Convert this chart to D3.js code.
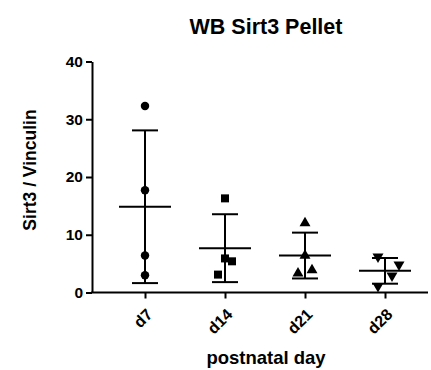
<!DOCTYPE html>
<html lang="en">
  <head>
    <meta charset="UTF-8" />
    <title>WB Sirt3 Pellet</title>
    <script src="https://cdn.jsdelivr.net/npm/d3@7"></script>
    <style>
      body { margin: 0; background: #fff; }
      svg { display: block; font-family: "Liberation Sans", Arial, sans-serif; }
    </style>
  </head>
  <body>
    <svg width="431" height="370"></svg>
    <script>
      // groups and the 4 points per group
      const days = ["d7", "d14", "d21", "d28"];
      const d7 = [32.3, 17.7, 6.4, 3.0];
      const d14 = [16.3, 5.9, 5.4, 3.1];
      const d21 = [12.0, 6.4, 3.3, 3.9];
      const d28 = [6.2, 4.8, 2.9, 1.1];
      // small x jitter of the points (in px), as in the original
      const jitter = [[0, 0, 0, 0], [0, 0, 7, -7], [0, 0, -7, 7], [-7, 14, 7, -7]];
      const yTicks = [0, 10, 20, 30, 40];

      const groups = [d7, d14, d21, d28];
      const symbols = [d3.symbolCircle, d3.symbolSquare, d3.symbolTriangle, d3.symbolTriangle];
      const symSize = [56, 64, 52, 52];

      const svg = d3.select("svg");
      const x = d3.scalePoint().domain(days).range([145, 385]);
      const y = d3.scaleLinear().domain([0, 40]).range([292.5, 61.5]);

      // y axis
      const gy = svg.append("g").attr("transform", "translate(92,0)")
        .call(d3.axisLeft(y).tickValues(yTicks).tickSize(6).tickSizeOuter(0).tickPadding(3));
      gy.select(".domain").attr("stroke-width", 2);
      gy.selectAll(".tick line").attr("stroke-width", 2);
      gy.selectAll("text").attr("font-size", 15.5).attr("font-weight", "bold").attr("fill", "#000");

      // x axis
      const gx = svg.append("g").attr("transform", "translate(0,292.5)")
        .call(d3.axisBottom(x).tickSize(6).tickSizeOuter(0));
      gx.select(".domain").attr("d", "M91,0H428").attr("stroke-width", 2);
      gx.selectAll(".tick line").attr("stroke-width", 2);
      gx.selectAll("text")
        .attr("font-size", 16).attr("font-weight", "bold").attr("fill", "#000")
        .attr("text-anchor", "end")
        .attr("transform", "translate(4,19) rotate(-45)")
        .attr("dy", "0.35em").attr("y", 0).attr("x", 0);

      // mean +/- SD
      groups.forEach((vals, i) => {
        const cx = x(days[i]);
        const m = d3.mean(vals), sd = d3.deviation(vals);
        const g = svg.append("g").attr("stroke", "#000").attr("stroke-width", 2);
        g.append("line").attr("x1", cx).attr("x2", cx).attr("y1", y(m + sd)).attr("y2", y(m - sd));
        g.append("line").attr("x1", cx - 26).attr("x2", cx + 26).attr("y1", y(m)).attr("y2", y(m));
        [m + sd, m - sd].forEach(v => {
          g.append("line").attr("x1", cx - 13).attr("x2", cx + 13).attr("y1", y(v)).attr("y2", y(v));
        });
        // points
        svg.append("g").selectAll("path").data(vals).join("path")
          .attr("d", d3.symbol().type(symbols[i]).size(symSize[i]))
          .attr("transform", (d, j) => `translate(${cx + jitter[i][j]},${y(d)})` + (i === 3 ? " rotate(180)" : ""))
          .attr("fill", "#000");
      });

      // labels
      svg.append("text").attr("x", 266).attr("y", 34).attr("text-anchor", "middle")
        .attr("font-size", 21.5).attr("font-weight", "bold").text("WB Sirt3 Pellet");
      svg.append("text").attr("transform", "translate(36,170) rotate(-90)").attr("text-anchor", "middle")
        .attr("font-size", 17.5).attr("font-weight", "bold").text("Sirt3 / Vinculin");
      svg.append("text").attr("x", 266).attr("y", 364).attr("text-anchor", "middle")
        .attr("font-size", 18.5).attr("font-weight", "bold").text("postnatal day");
    </script>
  </body>
</html>
